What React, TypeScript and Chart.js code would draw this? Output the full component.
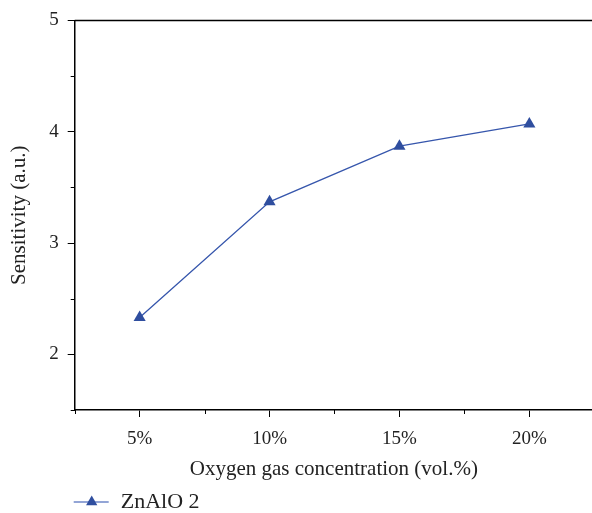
import React, { useEffect, useRef } from "react";
import { Chart, registerables } from "chart.js";

Chart.register(...registerables);

const concentrations = [5, 10, 15, 20];
const sensitivity = [2.33, 3.37, 3.87, 4.07];
const seriesLabel = "ZnAlO 2";
const xTitle = "Oxygen gas concentration (vol.%)";
const yTitle = "Sensitivity (a.u.)";
const yTicks = [2, 3, 4, 5];

const FONT = "'Liberation Serif', 'Times New Roman', serif";
const LINE = "#3656AC";
const MARK = "#2F4E9F";

const extrasPlugin = {
  id: "extras",
  afterDraw(chart: any) {
    const { ctx, chartArea } = chart;
    const xs = chart.scales.x;
    const ys = chart.scales.y;
    ctx.save();
    ctx.strokeStyle = "#000";
    ctx.lineWidth = 1.5;
    // top border
    ctx.beginPath();
    ctx.moveTo(chartArea.left, chartArea.top);
    ctx.lineTo(chart.width, chartArea.top);
    ctx.stroke();
    // minor ticks
    ctx.lineWidth = 1;
    const xt = xs.ticks.map((t: any) => t.value);
    const step = xt[1] - xt[0];
    const xm = [xt[0] - step / 2, ...xt.map((v: number) => v + step / 2)];
    xm.forEach((v: number) => {
      if (v < xs.min || v > xs.max) return;
      const px = Math.round(xs.getPixelForValue(v)) + 0.5;
      ctx.beginPath();
      ctx.moveTo(px, chartArea.bottom);
      ctx.lineTo(px, chartArea.bottom + 4);
      ctx.stroke();
    });
    const yt = ys.ticks.map((t: any) => t.value);
    const ystep = yt[1] - yt[0];
    const ym = [yt[0] - ystep / 2, ...yt.map((v: number) => v + ystep / 2)];
    ym.forEach((v: number) => {
      if (v < ys.min || v > ys.max) return;
      const py = Math.round(ys.getPixelForValue(v)) + 0.5;
      ctx.beginPath();
      ctx.moveTo(chartArea.left, py);
      ctx.lineTo(chartArea.left - 4, py);
      ctx.stroke();
    });
    // legend
    const lx = chartArea.left - 1;
    const ly = chart.height - 11;
    ctx.strokeStyle = "#6F87C8";
    ctx.lineWidth = 1.5;
    ctx.beginPath();
    ctx.moveTo(lx, ly);
    ctx.lineTo(lx + 35, ly);
    ctx.stroke();
    ctx.fillStyle = MARK;
    const cx = lx + 18;
    const r = 6.5;
    ctx.beginPath();
    ctx.moveTo(cx, ly - r);
    ctx.lineTo(cx + r * 0.866, ly + r * 0.5);
    ctx.lineTo(cx - r * 0.866, ly + r * 0.5);
    ctx.closePath();
    ctx.fill();
    ctx.fillStyle = "#222";
    ctx.font = `22px ${FONT}`;
    ctx.textBaseline = "middle";
    ctx.fillText(chart.data.datasets[0].label, lx + 47, ly);
    ctx.restore();
  },
};

export default function App() {
  const ref = useRef<HTMLCanvasElement>(null);
  useEffect(() => {
    document.body.style.margin = "0";
    document.body.style.overflow = "hidden";
    const chart = new Chart(ref.current!, {
      type: "line",
      data: {
        datasets: [
          {
            label: seriesLabel,
            data: concentrations.map((x, i) => ({ x, y: sensitivity[i] })),
            borderColor: LINE,
            borderWidth: 1.3,
            backgroundColor: MARK,
            pointStyle: "triangle",
            pointRadius: 7,
            pointBorderWidth: 0,
            pointBackgroundColor: MARK,
            fill: false,
            tension: 0,
          },
        ],
      },
      options: {
        animation: false,
        responsive: false,
        layout: { padding: { top: 16, right: 0, bottom: 31, left: 4 } },
        plugins: { legend: { display: false }, tooltip: { enabled: false } },
        scales: {
          x: {
            type: "linear",
            min: 2.5,
            max: 22.45,
            afterBuildTicks: (s: any) => {
              s.ticks = concentrations.map((v) => ({ value: v }));
            },
            ticks: {
              color: "#222",
              font: { family: FONT, size: 19 },
              padding: 11,
              callback: (v: any) => `${v}%`,
            },
            grid: { drawOnChartArea: false, drawTicks: true, tickLength: 7, color: "#000", tickWidth: 1 },
            border: { display: true, color: "#000", width: 1.5 },
            title: {
              display: true,
              text: xTitle,
              color: "#222",
              font: { family: FONT, size: 21 },
              padding: { top: -5, bottom: 0 },
            },
          },
          y: {
            type: "linear",
            min: 1.5,
            max: 5,
            afterBuildTicks: (s: any) => {
              s.ticks = yTicks.map((v) => ({ value: v }));
            },
            ticks: {
              color: "#222",
              font: { family: FONT, size: 19 },
              padding: 9,
            },
            grid: { drawOnChartArea: false, drawTicks: true, tickLength: 7, color: "#000", tickWidth: 1 },
            border: { display: true, color: "#000", width: 1.5 },
            title: {
              display: true,
              text: yTitle,
              color: "#222",
              font: { family: FONT, size: 21 },
              padding: { top: 3, bottom: 8 },
            },
          },
        },
      },
      plugins: [extrasPlugin],
    });
    return () => chart.destroy();
  }, []);
  return <canvas ref={ref} width={600} height={513} style={{ display: "block" }} />;
}
